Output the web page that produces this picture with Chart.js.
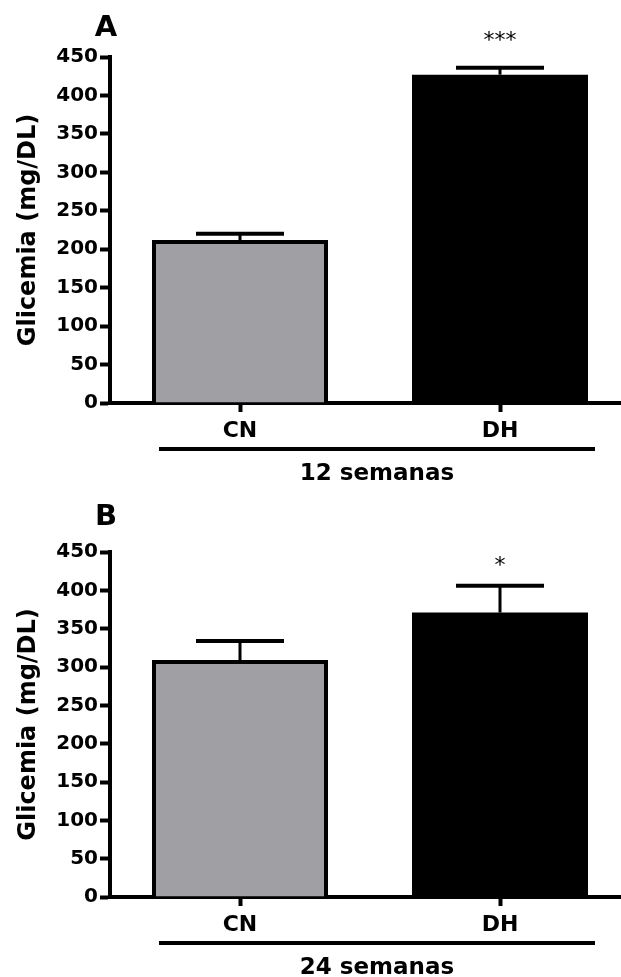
<!DOCTYPE html>
<html>
<head>
<meta charset="utf-8">
<script src="https://cdn.jsdelivr.net/npm/chart.js@4.4.1/dist/chart.umd.min.js"></script>
<style>
  html, body { margin: 0; padding: 0; background: #fff; overflow: hidden; }
  .panel { position: absolute; left: 0; }
</style>
</head>
<body>
<canvas id="chartA" class="panel" width="630" height="490" style="top:0px"></canvas>
<canvas id="chartB" class="panel" width="630" height="487" style="top:490px"></canvas>
<script>
// data
const categories = ['CN', 'DH'];
const glicemia12 = [212, 427];
const sem12 = [8, 9];
const signif12 = ['', '***'];
const glicemia24 = [309, 371];
const sem24 = [25, 35];
const signif24 = ['', '*'];
const barColors = ['#a09fa4', '#000000'];
const yMax = 450;
const yStep = 50;

const FONT = '"DejaVu Sans", "Liberation Sans", Arial, sans-serif';

// error bars, stars, group line, panel letter
const extras = {
    id: 'extras',
    afterDatasetsDraw(chart, args, opts) {
        const ctx = chart.ctx;
        const y = chart.scales.y;
        const meta = chart.getDatasetMeta(0);
        meta.data.forEach((bar, i) => {
            const top = y.getPixelForValue(opts.values[i] + opts.errors[i]);
            ctx.save();
            ctx.strokeStyle = '#000';
            ctx.lineWidth = 3;
            ctx.beginPath();
            ctx.moveTo(bar.x, bar.y);
            ctx.lineTo(bar.x, top);
            ctx.stroke();
            ctx.lineWidth = 4;
            ctx.beginPath();
            ctx.moveTo(bar.x - 44, top);
            ctx.lineTo(bar.x + 44, top);
            ctx.stroke();
            if (opts.stars[i]) {
                ctx.fillStyle = '#000';
                ctx.font = '22px ' + FONT;
                ctx.textAlign = 'center';
                ctx.textBaseline = 'middle';
                ctx.fillText(opts.stars[i], bar.x, top - opts.starGap);
            }
            ctx.restore();
        });
    },
    afterDraw(chart, args, opts) {
        const ctx = chart.ctx;
        const area = chart.chartArea;
        const meta = chart.getDatasetMeta(0);
        const first = meta.data[0], last = meta.data[meta.data.length - 1];
        const x0 = first.x - first.width / 2 + 7;
        const x1 = last.x + last.width / 2 + 7;
        ctx.save();
        ctx.strokeStyle = '#000';
        ctx.lineWidth = 4;
        ctx.beginPath();
        ctx.moveTo(x0, area.bottom + 46);
        ctx.lineTo(x1, area.bottom + 46);
        ctx.stroke();
        ctx.fillStyle = '#000';
        ctx.textAlign = 'center';
        ctx.textBaseline = 'middle';
        ctx.font = 'bold 23px ' + FONT;
        ctx.fillText(opts.group, (x0 + x1) / 2, area.bottom + 71);
        ctx.font = 'bold 29px ' + FONT;
        ctx.fillText(opts.letter, area.left - 4, area.top - opts.letterGap);
        ctx.restore();
    }
};

function makeChart(id, values, errors, stars, group, letter, top, bottom, starGap, letterGap) {
    const canvas = document.getElementById(id);
    return new Chart(canvas, {
        type: 'bar',
        data: {
            labels: categories,
            datasets: [{
                data: values,
                backgroundColor: barColors,
                borderColor: '#000',
                borderWidth: [4, 0],
                barPercentage: 0.677,
                categoryPercentage: 1
            }]
        },
        options: {
            responsive: false,
            animation: false,
            devicePixelRatio: 1,
            layout: { padding: { top: top, left: 0, right: 0, bottom: 0 } },
            plugins: {
                legend: { display: false },
                tooltip: { enabled: false },
                extras: { values: values, errors: errors, stars: stars, group: group, letter: letter, starGap: starGap, letterGap: letterGap }
            },
            scales: {
                x: {
                    offset: true,
                    afterFit: (s) => { s.height = canvas.height - bottom; },
                    border: { display: true, color: '#000', width: 4 },
                    grid: { offset: false, drawOnChartArea: false, drawTicks: true, tickLength: 9, tickWidth: 4, tickColor: '#000' },
                    ticks: { color: '#000', padding: 6, font: { family: FONT, size: 22, weight: 'bold' } }
                },
                y: {
                    min: 0,
                    max: yMax,
                    afterFit: (s) => { s.width = 110; },
                    border: { display: true, color: '#000', width: 4 },
                    grid: { drawOnChartArea: false, drawTicks: true, tickLength: 10, tickWidth: 4, tickColor: '#000' },
                    ticks: { stepSize: yStep, color: '#000', padding: 2, font: { family: FONT, size: 20, weight: 'bold' } },
                    title: { display: true, text: 'Glicemia (mg/DL)', color: '#000', padding: { top: 14, bottom: 0 }, font: { family: FONT, size: 24, weight: 'bold' } }
                }
            }
        },
        plugins: [extras]
    });
}

makeChart('chartA', glicemia12, sem12, signif12, '12 semanas', 'A', 57, 403, 26, 29);
makeChart('chartB', glicemia24, sem24, signif24, '24 semanas', 'B', 62, 407, 19, 35);
</script>
</body>
</html>
